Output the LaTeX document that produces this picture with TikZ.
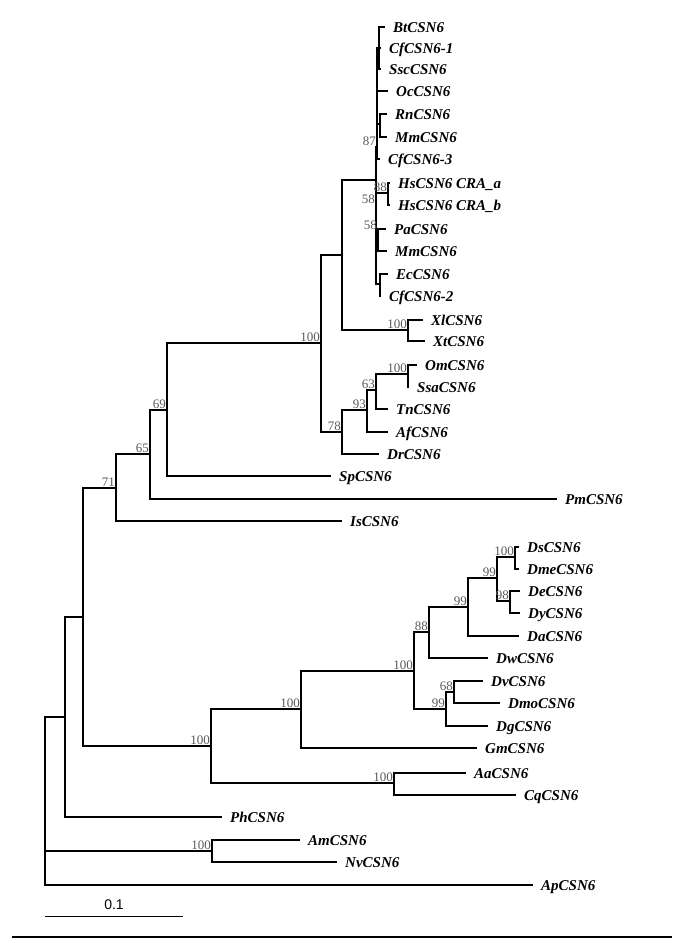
\documentclass[tikz,border=0pt]{standalone}
\usepackage{fontspec}
\setmainfont{Liberation Serif}
\newfontfamily\barfont{Liberation Sans}
\tikzset{%
  taxon/.style={anchor=west,inner xsep=8pt,inner ysep=1pt,text height=10pt,text depth=0pt,
    font=\fontsize{15}{17}\selectfont\bfseries\itshape},
  boot/.style={anchor=south east,inner sep=1pt,text=black!65,font=\fontsize{13}{15}\selectfont},
  branch/.style={line width=1.1pt}%
}

\begin{document}
\begin{tikzpicture}[
    x=1pt, y=-1pt
]
\useasboundingbox (0,0) rectangle (685,943);

% Inner nodes of the tree
\coordinate (root) at (45,800);
\coordinate (n1) at (65,717);
\coordinate (n2) at (83,617);
\coordinate (n71) at (116,488);
\coordinate (n65) at (150,454);
\coordinate (n69) at (167,410);
\coordinate (vert) at (321,343);
\coordinate (up) at (342,255);
\coordinate (mam) at (376,180);
\coordinate (m87) at (377,147);
\coordinate (mA) at (379,48);
\coordinate (mRM) at (380,124);
\coordinate (m58a) at (376,205);
\coordinate (m88) at (388,193);
\coordinate (m58b) at (378,231);
\coordinate (mEc) at (380,284);
\coordinate (xen) at (408,330);
\coordinate (n78) at (342,432);
\coordinate (n93) at (367,410);
\coordinate (n63) at (376,390);
\coordinate (sal) at (408,374);
\coordinate (ins) at (211,746);
\coordinate (dro) at (301,709);
\coordinate (d100) at (414,671);
\coordinate (d88) at (429,632);
\coordinate (d99a) at (468,607);
\coordinate (d99c) at (497,578);
\coordinate (d100b) at (515,557);
\coordinate (d98) at (510,601);
\coordinate (d99b) at (446,709);
\coordinate (d68) at (454,692);
\coordinate (mos) at (394,783);
\coordinate (hym) at (212,851);

% Taxa
\node[taxon] (bt) at (385,27) {BtCSN6};
\node[taxon] (cf1) at (381,48) {CfCSN6-1};
\node[taxon] (ssc) at (381,69) {SscCSN6};
\node[taxon] (oc) at (388,91) {OcCSN6};
\node[taxon] (rn) at (387,114) {RnCSN6};
\node[taxon] (mm) at (387,137) {MmCSN6};
\node[taxon] (cf3) at (380,159) {CfCSN6-3};
\node[taxon] (hsa) at (390,183) {HsCSN6 CRA\_a};
\node[taxon] (hsb) at (390,205) {HsCSN6 CRA\_b};
\node[taxon] (pa) at (386,229) {PaCSN6};
\node[taxon] (mm2) at (387,251) {MmCSN6};
\node[taxon] (ec) at (388,274) {EcCSN6};
\node[taxon] (cf2) at (381,296) {CfCSN6-2};
\node[taxon] (xl) at (423,320) {XlCSN6};
\node[taxon] (xt) at (425,341) {XtCSN6};
\node[taxon] (om) at (417,365) {OmCSN6};
\node[taxon] (ssa) at (409,387) {SsaCSN6};
\node[taxon] (tn) at (388,409) {TnCSN6};
\node[taxon] (af) at (388,432) {AfCSN6};
\node[taxon] (dr) at (379,454) {DrCSN6};
\node[taxon] (sp) at (331,476) {SpCSN6};
\node[taxon] (pm) at (557,499) {PmCSN6};
\node[taxon] (is) at (342,521) {IsCSN6};
\node[taxon] (ds) at (519,547) {DsCSN6};
\node[taxon] (dme) at (519,569) {DmeCSN6};
\node[taxon] (de) at (520,591) {DeCSN6};
\node[taxon] (dy) at (520,613) {DyCSN6};
\node[taxon] (da) at (519,636) {DaCSN6};
\node[taxon] (dw) at (488,658) {DwCSN6};
\node[taxon] (dv) at (483,681) {DvCSN6};
\node[taxon] (dmo) at (500,703) {DmoCSN6};
\node[taxon] (dg) at (488,726) {DgCSN6};
\node[taxon] (gm) at (477,748) {GmCSN6};
\node[taxon] (aa) at (466,773) {AaCSN6};
\node[taxon] (cq) at (516,795) {CqCSN6};
\node[taxon] (ph) at (222,817) {PhCSN6};
\node[taxon] (am) at (300,840) {AmCSN6};
\node[taxon] (nv) at (337,862) {NvCSN6};
\node[taxon] (ap) at (533,885) {ApCSN6};

% Backbone
\draw[branch] (root) |- (n1);
\draw[branch] (root) |- (hym);
\draw[branch] (root) |- (ap.west);
\draw[branch] (n1) |- (n2);
\draw[branch] (n1) |- (ph.west);
\draw[branch] (n2) |- (n71);
\draw[branch] (n2) |- (ins);
\draw[branch] (n71) |- (n65);
\draw[branch] (n71) |- (is.west);
\draw[branch] (n65) |- (n69);
\draw[branch] (n65) |- (pm.west);
\draw[branch] (n69) |- (vert);
\draw[branch] (n69) |- (sp.west);

% Vertebrates
\draw[branch] (vert) |- (up);
\draw[branch] (vert) |- (n78);
\draw[branch] (up) |- (mam);
\draw[branch] (up) |- (xen);
\draw[branch] (xen) |- (xl.west);
\draw[branch] (xen) |- (xt.west);
\draw[branch] (mam) |- (m87);
\draw[branch] (mam) |- (m58a);
\draw[branch] (mam) |- (mEc);
\draw[branch] (m87) |- (mA);
\draw[branch] (m87) |- (oc.west);
\draw[branch] (m87) |- (mRM);
\draw[branch] (m87) |- (cf3.west);
\draw[branch] (mA) |- (bt.west);
\draw[branch] (mA) |- (cf1.west);
\draw[branch] (mA) |- (ssc.west);
\draw[branch] (mRM) |- (rn.west);
\draw[branch] (mRM) |- (mm.west);
\draw[branch] (m58a) |- (m88);
\draw[branch] (m58a) |- (m58b);
\draw[branch] (m88) |- (hsa.west);
\draw[branch] (m88) |- (hsb.west);
\draw[branch] (m58b) |- (pa.west);
\draw[branch] (m58b) |- (mm2.west);
\draw[branch] (mEc) |- (ec.west);
\draw[branch] (mEc) |- (cf2.west);
\draw[branch] (n78) |- (n93);
\draw[branch] (n78) |- (dr.west);
\draw[branch] (n93) |- (n63);
\draw[branch] (n93) |- (af.west);
\draw[branch] (n63) |- (sal);
\draw[branch] (n63) |- (tn.west);
\draw[branch] (sal) |- (om.west);
\draw[branch] (sal) |- (ssa.west);

% Insects
\draw[branch] (ins) |- (dro);
\draw[branch] (ins) |- (mos);
\draw[branch] (dro) |- (d100);
\draw[branch] (dro) |- (gm.west);
\draw[branch] (d100) |- (d88);
\draw[branch] (d100) |- (d99b);
\draw[branch] (d88) |- (d99a);
\draw[branch] (d88) |- (dw.west);
\draw[branch] (d99a) |- (d99c);
\draw[branch] (d99a) |- (da.west);
\draw[branch] (d99c) |- (d100b);
\draw[branch] (d99c) |- (d98);
\draw[branch] (d100b) |- (ds.west);
\draw[branch] (d100b) |- (dme.west);
\draw[branch] (d98) |- (de.west);
\draw[branch] (d98) |- (dy.west);
\draw[branch] (d99b) |- (d68);
\draw[branch] (d99b) |- (dg.west);
\draw[branch] (d68) |- (dv.west);
\draw[branch] (d68) |- (dmo.west);
\draw[branch] (mos) |- (aa.west);
\draw[branch] (mos) |- (cq.west);
\draw[branch] (hym) |- (am.west);
\draw[branch] (hym) |- (nv.west);

% Bootstrap values
\node[boot] (b87) at (m87) {87};
\node[boot] (b88) at (m88) {88};
\node[boot] (b58a) at (m58a) {58};
\node[boot] (b58b) at (m58b) {58};
\node[boot] (bxen) at (xen) {100};
\node[boot] (bvert) at (vert) {100};
\node[boot] (b78) at (n78) {78};
\node[boot] (b93) at (n93) {93};
\node[boot] (b63) at (n63) {63};
\node[boot] (bsal) at (sal) {100};
\node[boot] (b69) at (n69) {69};
\node[boot] (b65) at (n65) {65};
\node[boot] (b71) at (n71) {71};
\node[boot] (bd100b) at (d100b) {100};
\node[boot] (bd99c) at (d99c) {99};
\node[boot] (bd98) at (d98) {98};
\node[boot] (bd99a) at (d99a) {99};
\node[boot] (bd88) at (d88) {88};
\node[boot] (bd100) at (d100) {100};
\node[boot] (bd68) at (d68) {68};
\node[boot] (bd99b) at (d99b) {99};
\node[boot] (bdro) at (dro) {100};
\node[boot] (bins) at (ins) {100};
\node[boot] (bmos) at (mos) {100};
\node[boot] (bhym) at (hym) {100};

% Scale bar and rule
\coordinate (sbL) at (45,916);
\coordinate (sbR) at (183,916);
\draw[line width=1pt] (sbL) -- (sbR);
\node[font=\barfont\fontsize{14}{16}\selectfont] (sbtext) at (114,905) {0.1};
\coordinate (ruleL) at (12,937);
\coordinate (ruleR) at (672,937);
\draw[line width=2pt] (ruleL) -- (ruleR);

\end{tikzpicture}
\end{document}
